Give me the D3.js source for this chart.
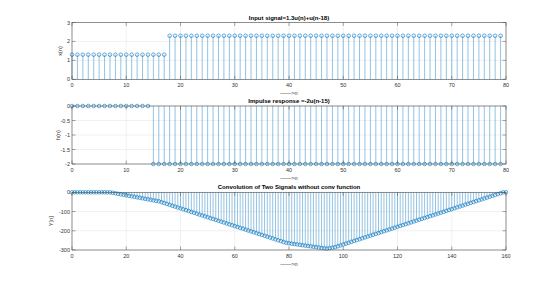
<!DOCTYPE html>
<html>
<head>
<meta charset="utf-8">
<script src="https://cdn.jsdelivr.net/npm/d3@7"></script>
<style>
  body { margin: 0; background: #fff; }
  text { font-family: "Liberation Sans", Arial, sans-serif; }
</style>
</head>
<body>
<div id="chart"></div>
<script>
const width = 560;
const height = 283;

// Input signal x(n), n = 0..79
const xn = [
  1.3, 1.3, 1.3, 1.3, 1.3, 1.3, 1.3, 1.3, 1.3, 1.3, 1.3, 1.3, 1.3, 1.3, 1.3, 1.3, 1.3, 1.3,
  2.3, 2.3, 2.3, 2.3, 2.3, 2.3, 2.3, 2.3, 2.3, 2.3, 2.3, 2.3, 2.3, 2.3, 2.3, 2.3, 2.3, 2.3, 2.3, 2.3,
  2.3, 2.3, 2.3, 2.3, 2.3, 2.3, 2.3, 2.3, 2.3, 2.3, 2.3, 2.3, 2.3, 2.3, 2.3, 2.3, 2.3, 2.3, 2.3, 2.3,
  2.3, 2.3, 2.3, 2.3, 2.3, 2.3, 2.3, 2.3, 2.3, 2.3, 2.3, 2.3, 2.3, 2.3, 2.3, 2.3, 2.3, 2.3, 2.3, 2.3,
  2.3, 2.3
];

// Impulse response h(n), n = 0..79
const hn = [
  0, 0, 0, 0, 0, 0, 0, 0, 0, 0, 0, 0, 0, 0, 0,
  -2, -2, -2, -2, -2, -2, -2, -2, -2, -2, -2, -2, -2, -2, -2, -2, -2, -2, -2, -2,
  -2, -2, -2, -2, -2, -2, -2, -2, -2, -2, -2, -2, -2, -2, -2, -2, -2, -2, -2, -2,
  -2, -2, -2, -2, -2, -2, -2, -2, -2, -2, -2, -2, -2, -2, -2, -2, -2, -2, -2, -2,
  -2, -2, -2, -2, -2
];

// Output Y(n), n = 0..160
const yn = [
  0, 0, 0, 0, 0, 0, 0, 0, 0, 0, 0, 0, 0, 0, 0,
  -2.6, -5.2, -7.8, -10.4, -13, -15.6, -18.2, -20.8, -23.4, -26, -28.6, -31.2, -33.8, -36.4, -39, -41.6, -44.2, -46.8,
  -51.4, -56, -60.6, -65.2, -69.8, -74.4, -79, -83.6, -88.2, -92.8, -97.4, -102, -106.6, -111.2, -115.8, -120.4,
  -125, -129.6, -134.2, -138.8, -143.4, -148, -152.6, -157.2, -161.8, -166.4, -171, -175.6, -180.2, -184.8,
  -189.4, -194, -198.6, -203.2, -207.8, -212.4, -217, -221.6, -226.2, -230.8, -235.4, -240, -244.6, -249.2,
  -253.8, -258.4, -263,
  -265, -267, -269, -271, -273, -275, -277, -279, -281, -283, -285, -287, -289, -291, -293,
  -290.4, -287.8, -285.2,
  -280.6, -276, -271.4, -266.8, -262.2, -257.6, -253, -248.4, -243.8, -239.2, -234.6, -230, -225.4, -220.8,
  -216.2, -211.6, -207, -202.4, -197.8, -193.2, -188.6, -184, -179.4, -174.8, -170.2, -165.6, -161, -156.4,
  -151.8, -147.2, -142.6, -138, -133.4, -128.8, -124.2, -119.6, -115, -110.4, -105.8, -101.2, -96.6, -92,
  -87.4, -82.8, -78.2, -73.6, -69, -64.4, -59.8, -55.2, -50.6, -46, -41.4, -36.8, -32.2, -27.6, -23, -18.4,
  -13.8, -9.2, -4.6, 0, 0
];

// Titles, labels and ticks
const titles = ["Input signal=1.3u(n)+u(n-18)", "Impulse response =-2u(n-15)", "Convolution of Two Signals without conv function"];
const yLabels = ["x(n)", "h(n)", "Y[n]"];
const xLabel = "\u2014\u2014>n";
const xTicks1 = [0, 10, 20, 30, 40, 50, 60, 70, 80];
const xTicks3 = [0, 20, 40, 60, 80, 100, 120, 140, 160];
const yTicks1 = [0, 1, 2, 3];
const yTicks2 = [0, -0.5, -1, -1.5, -2];
const yTicks3 = [0, -100, -200, -300];

const blue = "#0072BD";
const axisGrey = "#4d4d4d";
const left = 72, right = 506;

const svg = d3.select("#chart")
    .append("svg")
    .attr("width", width)
    .attr("height", height);

const panels = [
  {data: xn, xDom: [0, 80], yDom: [0, 3], xTicks: xTicks1, yTicks: yTicks1, top: 22.5, bottom: 79.3, ylx: 62},
  {data: hn, xDom: [0, 80], yDom: [-2, 0], xTicks: xTicks1, yTicks: yTicks2, top: 106, bottom: 164, ylx: 60},
  {data: yn, xDom: [0, 160], yDom: [-300, 0], xTicks: xTicks3, yTicks: yTicks3, top: 192.3, bottom: 250, ylx: 53}
];

panels.forEach((p, i) => {
  const x = d3.scaleLinear().domain(p.xDom).range([left, right]);
  const y = d3.scaleLinear().domain(p.yDom).range([p.bottom, p.top]);
  const g = svg.append("g");

  // grid
  g.selectAll(".gx").data(p.xTicks).enter().append("line")
      .attr("x1", d => x(d)).attr("x2", d => x(d))
      .attr("y1", p.top).attr("y2", p.bottom)
      .attr("stroke", "#e3e3e3").attr("stroke-width", 0.5);
  g.selectAll(".gy").data(p.yTicks).enter().append("line")
      .attr("x1", left).attr("x2", right)
      .attr("y1", d => y(d)).attr("y2", d => y(d))
      .attr("stroke", "#e3e3e3").attr("stroke-width", 0.5);

  // stems
  const pts = p.data.map((v, n) => ({n: n, v: v}));
  g.selectAll(".stem").data(pts).enter().append("line")
      .attr("x1", d => x(d.n)).attr("x2", d => x(d.n))
      .attr("y1", y(0)).attr("y2", d => y(d.v))
      .attr("stroke", blue).attr("stroke-width", 0.5).attr("stroke-opacity", 0.85);
  g.selectAll(".mk").data(pts).enter().append("circle")
      .attr("cx", d => x(d.n)).attr("cy", d => y(d.v))
      .attr("r", 1.8)
      .attr("fill", "none").attr("stroke", blue).attr("stroke-width", 0.6);

  // box
  g.append("rect")
      .attr("x", left).attr("y", p.top)
      .attr("width", right - left).attr("height", p.bottom - p.top)
      .attr("fill", "none").attr("stroke", axisGrey).attr("stroke-width", 0.6);

  // ticks (inward, bottom/top and left/right)
  p.xTicks.forEach(t => {
    g.append("line").attr("x1", x(t)).attr("x2", x(t)).attr("y1", p.bottom).attr("y2", p.bottom - 3.5)
        .attr("stroke", axisGrey).attr("stroke-width", 0.5);
    g.append("line").attr("x1", x(t)).attr("x2", x(t)).attr("y1", p.top).attr("y2", p.top + 3.5)
        .attr("stroke", axisGrey).attr("stroke-width", 0.5);
  });
  p.yTicks.forEach(t => {
    g.append("line").attr("x1", left).attr("x2", left + 3.5).attr("y1", y(t)).attr("y2", y(t))
        .attr("stroke", axisGrey).attr("stroke-width", 0.5);
    g.append("line").attr("x1", right).attr("x2", right - 3.5).attr("y1", y(t)).attr("y2", y(t))
        .attr("stroke", axisGrey).attr("stroke-width", 0.5);
  });

  // tick labels
  g.selectAll(".xl").data(p.xTicks).enter().append("text")
      .attr("x", d => x(d)).attr("y", p.bottom + 8)
      .attr("text-anchor", "middle")
      .attr("font-size", 5.5).attr("fill", "#333")
      .text(d => d);
  g.selectAll(".yl").data(p.yTicks).enter().append("text")
      .attr("x", left - 2).attr("y", d => y(d) + 2)
      .attr("text-anchor", "end")
      .attr("font-size", 5.5).attr("fill", "#333")
      .text(d => d);

  // title
  g.append("text")
      .attr("x", (left + right) / 2).attr("y", p.top - 3)
      .attr("text-anchor", "middle")
      .attr("font-size", 6).attr("font-weight", "bold").attr("fill", "#000")
      .text(titles[i]);

  // axis labels
  g.append("text")
      .attr("x", (left + right) / 2).attr("y", p.bottom + 15.5)
      .attr("text-anchor", "middle")
      .attr("font-size", 5.5).attr("fill", "#333")
      .text(xLabel);
  g.append("text")
      .attr("transform", `translate(${p.ylx},${(p.top + p.bottom) / 2}) rotate(-90)`)
      .attr("text-anchor", "middle")
      .attr("font-size", 5.5).attr("fill", "#333")
      .text(yLabels[i]);
});
</script>
</body>
</html>
